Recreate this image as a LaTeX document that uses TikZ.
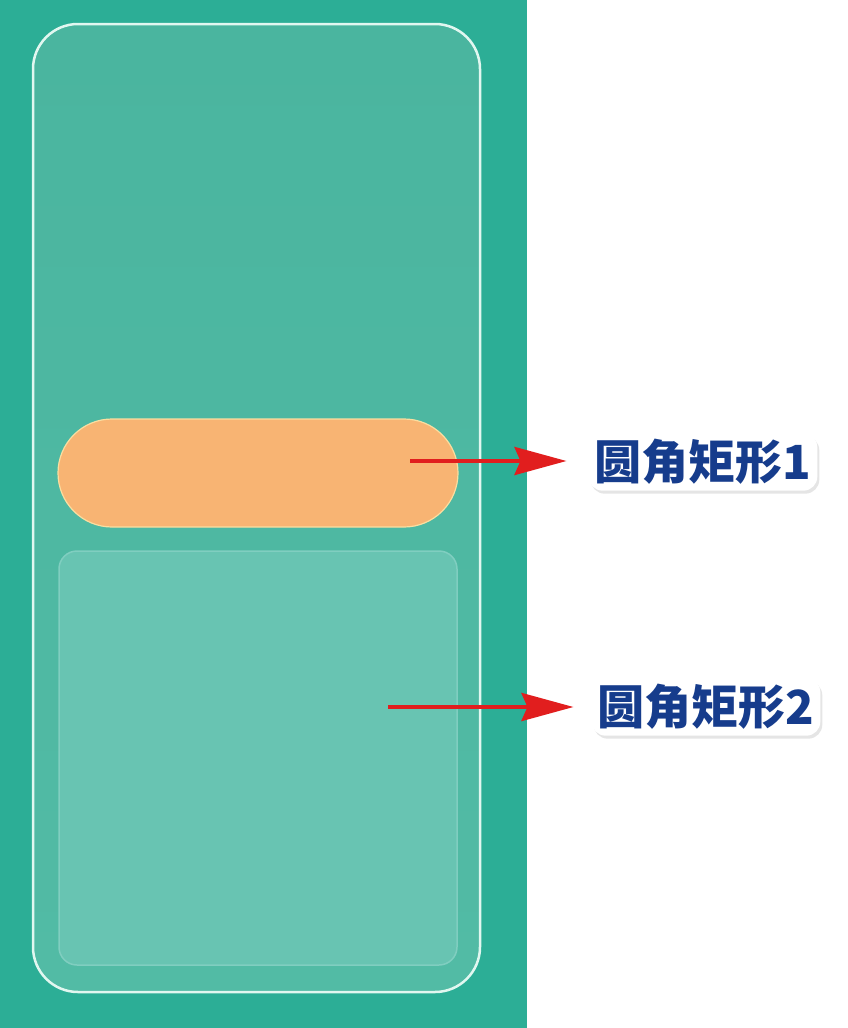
\documentclass[tikz,border=0pt]{standalone}
\usepackage{fontspec}
\newfontfamily\cjk{Noto Sans CJK SC}
\usetikzlibrary{arrows.meta,shadows}
\definecolor{bgteal}{RGB}{44,174,150}
\definecolor{framefill}{RGB}{82,187,165}
\definecolor{framefilltop}{RGB}{74,181,159}
\definecolor{framecol}{RGB}{225,247,240}
\definecolor{boxfill}{RGB}{104,196,178}
\definecolor{boxline}{RGB}{128,206,192}
\definecolor{pillfill}{RGB}{248,180,115}
\definecolor{pillline}{RGB}{250,222,160}
\definecolor{labblue}{RGB}{22,60,140}
\definecolor{arrowred}{RGB}{225,30,30}
\tikzset{
  frame/.style={draw=framecol, line width=2.5pt, top color=framefilltop, bottom color=framefill, rounded corners=45pt},
  pill/.style={draw=pillline, line width=1.2pt, fill=pillfill, minimum width=400pt, minimum height=108pt, rounded corners=54pt, inner sep=0pt},
  softbox/.style={draw=boxline, line width=1.5pt, fill=boxfill, minimum width=398pt, minimum height=414pt, rounded corners=18pt, inner sep=0pt},
  lab/.style={font=\cjk\bfseries\fontsize{47}{50}\selectfont, text=labblue, fill=white, rounded corners=14pt, inner sep=6pt,
    drop shadow={opacity=0.2, shadow xshift=2pt, shadow yshift=-3pt, fill=gray}},
  redarrow/.style={draw=arrowred, line width=4pt, -{Stealth[length=52pt,width=28pt,inset=6pt]}}
}
\begin{document}
\begin{tikzpicture}[x=1pt,y=-1pt]
\useasboundingbox (0,0) rectangle (848,1028);
\fill[white] (0,0) rectangle (848,1028);
\fill[bgteal] (0,0) rectangle (527,1028);
\path[frame] (33,24) rectangle (480,992);
\node[pill] (r1) at (258,473) {};
\node[softbox] (r2) at (258,758) {};
\node[lab] (l1) at (703,462) {圆角矩形1};
\node[lab] (l2) at (706,707) {圆角矩形2};
\coordinate (a1) at (410,461);
\coordinate (a2) at (388,707);
\draw[redarrow, shorten >=22pt] (a1) -- (a1 -| l1.west);
\draw[redarrow, shorten >=18pt] (a2) -- (a2 -| l2.west);
\end{tikzpicture}
\end{document}
